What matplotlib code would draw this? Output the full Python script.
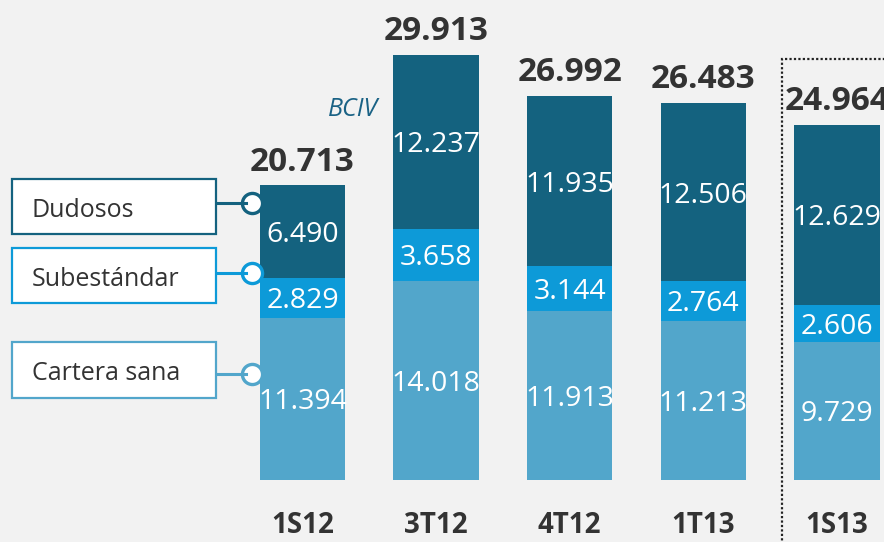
import matplotlib.pyplot as plt
from matplotlib.patches import Rectangle

# data
periods = ['1S12', '3T12', '4T12', '1T13', '1S13']
sana = [11.394, 14.018, 11.913, 11.213, 9.729]
subestandar = [2.829, 3.658, 3.144, 2.764, 2.606]
dudosos = [6.490, 12.237, 11.935, 12.506, 12.629]
totals = ['20.713', '29.913', '26.992', '26.483', '24.964']

c_dark = '#14627f'
c_mid = '#0d9ad8'
c_light = '#52a6cb'
bg = '#f2f2f2'
txt = '#333333'

plt.rcParams['font.family'] = ['Open Sans', 'DejaVu Sans']

W, H = 884, 542
fig = plt.figure(figsize=(W / 100, H / 100), dpi=100, facecolor=bg)
ax = fig.add_axes([0, 0, 1, 1])
ax.set_facecolor(bg)

# pixel-aligned scales: bar centres 133.6 px apart, 14.22 px per unit
ax.set_xlim(-302.5 / 133.6, (W - 302.5) / 133.6)
ax.set_ylim(-62 / 14.22, (H - 62) / 14.22)
ax.axis('off')

x = list(range(len(periods)))
bw = 0.64
ax.bar(x, sana, bw, color=c_light, zorder=2)
bot2 = sana
ax.bar(x, subestandar, bw, bottom=bot2, color=c_mid, zorder=2)
bot3 = [a + b for a, b in zip(sana, subestandar)]
ax.bar(x, dudosos, bw, bottom=bot3, color=c_dark, zorder=2)

def fmt(v):
    return f'{v:.3f}'

for i in x:
    for val, b in [(sana[i], 0), (subestandar[i], bot2[i]), (dudosos[i], bot3[i])]:
        ax.text(i, b + val / 2, fmt(val), color='white', fontsize=20.5,
                ha='center', va='center_baseline', zorder=3)
    top = bot3[i] + dudosos[i]
    ax.annotate(totals[i], (i, top), xytext=(0, 5), textcoords='offset points',
                ha='center', va='bottom', fontsize=24, fontweight='bold', color=txt)
    ax.text(i, -2.95, periods[i], ha='center', va='center_baseline', fontsize=20,
            fontweight='bold', color=txt)

ax.text((378 - 302.5) / 133.6, (480 - 107) / 14.22, 'BCIV', fontsize=18,
        style='italic', color='#1a6285', ha='right', va='center_baseline', zorder=5)

# legend boxes on the left, in figure pixels
def fx(px):
    return px / W

def fy(py):
    return 1 - py / H

legend = [
    ('Dudosos', c_dark, 179, 234, 203),
    ('Subestándar', c_mid, 248, 303, 273),
    ('Cartera sana', c_light, 342, 398, 374),
]
for name, col, y0, y1, cy in legend:
    fig.patches.append(Rectangle((fx(12), fy(y1)), fx(216) - fx(12), fy(y0) - fy(y1),
                                 transform=fig.transFigure, facecolor='white',
                                 edgecolor=col, linewidth=1.6, zorder=5))
    fig.text(fx(32), fy((y0 + y1) / 2 + 1), name, fontsize=18, color=txt,
             ha='left', va='center_baseline', zorder=6)
    fig.lines.append(plt.Line2D([fx(216), fx(246)], [fy(cy), fy(cy)],
                                transform=fig.transFigure, color=col, linewidth=2.2,
                                zorder=5))
    ax.scatter([(251.5 - 302.5) / 133.6], [(480 - cy) / 14.22], s=210, facecolor='white',
               edgecolor=col, linewidth=2.4, zorder=6, clip_on=False)

# dotted frame around the last period
fig.patches.append(Rectangle((fx(782), fy(560)), fx(900) - fx(782), fy(59) - fy(560),
                             transform=fig.transFigure, fill=False, edgecolor='#222222',
                             linewidth=1.6, linestyle=(0, (1, 1)), zorder=4))

fig.savefig('out.png', dpi=100, facecolor=bg)
